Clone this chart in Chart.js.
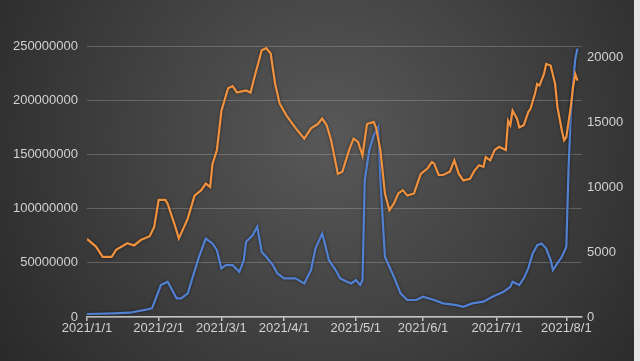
<!DOCTYPE html>
<html>
<head>
<meta charset="utf-8">
<script src="https://cdn.jsdelivr.net/npm/chart.js@4"></script>
<style>
  html, body { margin: 0; padding: 0; background: #e6e6e6; }
  #wrap { width: 634px; height: 361px; position: relative; }
</style>
</head>
<body>
<div id="wrap"><canvas id="lineChart"></canvas></div>
<script>
// x positions are day numbers counted from 2021/1/1
var monthDays = [0, 32, 60, 88, 120, 150, 183, 214];
var monthLabels = ["2021/1/1", "2021/2/1", "2021/3/1", "2021/4/1", "2021/5/1", "2021/6/1", "2021/7/1", "2021/8/1"];

var leftTicks = [0, 50000000, 100000000, 150000000, 200000000, 250000000];
var rightTicks = [0, 5000, 10000, 15000, 20000];

// orange series (left axis)
var amountDays = [0, 4, 7, 11, 13, 18, 21, 24, 28, 30, 32, 35, 36, 39, 41, 43, 45, 48, 51, 53, 55, 56, 58, 60,
  63, 65, 67, 71, 73, 75, 78, 80, 82, 84, 86, 89, 94, 97, 100, 103, 105, 107, 109, 112, 114, 117, 119, 121,
  123, 125, 128, 129, 131, 133, 135, 137, 139, 141, 143, 146, 149, 152, 154, 155, 157, 159, 162, 164, 166,
  168, 171, 173, 175, 177, 178, 180, 182, 184, 187, 188, 189, 190, 192, 193, 195, 197, 198, 200, 201, 202,
  204, 205, 207, 209, 210, 212, 213, 214, 216, 217, 218, 219];
var amountValues = [72000000, 65000000, 55500000, 55500000, 62000000, 68000000, 66000000, 71000000, 74500000,
  83000000, 108000000, 108000000, 104500000, 86000000, 72500000, 81500000, 91000000, 112000000, 117000000,
  123000000, 120000000, 141000000, 154000000, 190000000, 211000000, 213000000, 207000000, 209000000,
  207000000, 223000000, 246000000, 248000000, 243000000, 215000000, 197000000, 186000000, 172000000,
  164500000, 174000000, 178000000, 183000000, 177000000, 163000000, 132000000, 134000000, 154000000,
  164500000, 161500000, 149000000, 178000000, 180000000, 175000000, 154000000, 114000000, 98500000,
  104500000, 114000000, 117000000, 112000000, 114000000, 132000000, 137000000, 143000000, 141500000,
  131000000, 131000000, 134000000, 144500000, 132000000, 126000000, 127500000, 135000000, 140000000,
  138500000, 147500000, 144500000, 154000000, 157000000, 154000000, 181000000, 177000000, 190500000,
  183000000, 175000000, 177000000, 189000000, 192000000, 206000000, 215000000, 213500000, 224000000,
  233500000, 232000000, 215000000, 194000000, 172000000, 163000000, 166000000, 194000000, 212000000,
  224000000, 218000000];

// blue series (right axis)
var countDays = [0, 12, 19, 27, 29, 31, 33, 36, 38, 40, 42, 45, 47, 50, 53, 56, 58, 60, 62, 65, 68, 70, 71,
  74, 76, 78, 80, 83, 85, 88, 93, 97, 100, 102, 105, 106, 108, 111, 113, 116, 118, 120, 122, 123, 124, 126,
  128, 130, 131, 133, 135, 137, 140, 143, 147, 150, 155, 159, 165, 168, 172, 177, 181, 186, 189, 190, 193,
  195, 197, 199, 201, 203, 205, 207, 208, 210, 212, 214, 215, 216, 217, 218, 219];
var countValues = [230, 285, 330, 590, 670, 1560, 2460, 2720, 2080, 1440, 1440, 1820, 2980, 4640, 6050, 5670,
  5150, 3750, 4000, 4000, 3480, 4380, 5790, 6310, 6950, 5020, 4640, 4000, 3360, 2980, 2980, 2590, 3620,
  5280, 6440, 5790, 4380, 3620, 2980, 2720, 2590, 2850, 2460, 2850, 10540, 12850, 14000, 14640, 10540,
  4640, 3870, 3100, 1820, 1310, 1310, 1560, 1310, 1050, 920, 790, 1050, 1180, 1560, 1950, 2330, 2720,
  2460, 2980, 3750, 4900, 5540, 5670, 5280, 4380, 3620, 4130, 4640, 5410, 11500, 15500, 18000, 19900, 20700];

function toPoints(days, values) {
  return days.map(function (d, i) { return { x: d, y: values[i] }; });
}

// dark radial background + thin shadow under the lines
var backdrop = {
  id: "backdrop",
  beforeDraw: function (chart) {
    var ctx = chart.ctx;
    var w = chart.width, h = chart.height;
    var g = ctx.createRadialGradient(w * 0.52, h * 0.38, 10, w * 0.52, h * 0.38, w * 0.62);
    g.addColorStop(0, "#575757");
    g.addColorStop(1, "#2a2a2a");
    ctx.save();
    ctx.fillStyle = g;
    ctx.fillRect(0, 0, w, h);
    ctx.restore();
  },
  beforeDatasetDraw: function (chart) {
    chart.ctx.save();
    chart.ctx.shadowColor = "rgba(0,0,0,0.55)";
    chart.ctx.shadowBlur = 3;
  },
  afterDatasetDraw: function (chart) {
    chart.ctx.restore();
  }
};

var tickFont = { family: "'Liberation Sans', Arial, sans-serif", size: 13 };
var textColor = "#d2d2d2";

var ctx = document.getElementById("lineChart").getContext("2d");
var myLineChart = new Chart(ctx, {
  type: "line",
  data: {
    datasets: [
      {
        label: "amount",
        data: toPoints(amountDays, amountValues),
        yAxisID: "y",
        borderColor: "#f2923f",
        borderWidth: 2.2,
        pointRadius: 0,
        tension: 0,
        order: 1
      },
      {
        label: "count",
        data: toPoints(countDays, countValues),
        yAxisID: "y1",
        borderColor: "#5280d2",
        borderWidth: 2.2,
        pointRadius: 0,
        tension: 0,
        order: 2
      }
    ]
  },
  options: {
    responsive: true,
    maintainAspectRatio: false,
    animation: false,
    layout: { padding: { top: 46 } },
    plugins: {
      legend: { display: false },
      tooltip: { enabled: false }
    },
    scales: {
      x: {
        type: "linear",
        min: 0,
        max: 221,
        afterBuildTicks: function (scale) {
          scale.ticks = monthDays.map(function (d) { return { value: d }; });
        },
        afterFit: function (scale) { scale.height = 44; },
        ticks: {
          autoSkip: false,
          maxRotation: 0,
          padding: 0,
          color: textColor,
          font: tickFont,
          callback: function (value, index) { return monthLabels[index]; }
        },
        grid: { drawOnChartArea: false, drawTicks: true, tickLength: 4, color: "#c4c4c4", lineWidth: 1.5 },
        border: { display: true, color: "#c4c4c4", width: 1.5 }
      },
      y: {
        position: "left",
        min: 0,
        max: 250000000,
        afterBuildTicks: function (scale) {
          scale.ticks = leftTicks.map(function (v) { return { value: v }; });
        },
        afterFit: function (scale) { scale.width = 87; },
        ticks: {
          padding: 9,
          color: textColor,
          font: tickFont,
          callback: function (value) { return String(value); }
        },
        grid: { color: "rgba(255,255,255,0.2)", lineWidth: 1, drawTicks: false },
        border: { display: false }
      },
      y1: {
        position: "right",
        min: 0,
        max: 20890,
        afterBuildTicks: function (scale) {
          scale.ticks = rightTicks.map(function (v) { return { value: v }; });
        },
        afterFit: function (scale) { scale.width = 52; },
        ticks: {
          padding: 5,
          color: textColor,
          font: tickFont,
          callback: function (value) { return String(value); }
        },
        grid: { display: false, drawTicks: false },
        border: { display: false }
      }
    }
  },
  plugins: [backdrop]
});
</script>
</body>
</html>
